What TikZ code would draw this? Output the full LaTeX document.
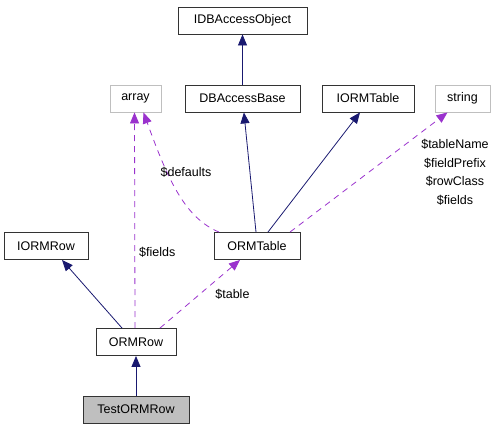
\documentclass[tikz,border=0pt]{standalone}
\usepackage{fontspec}
\setmainfont{Liberation Sans}
\usepackage{xcolor}
\usetikzlibrary{arrows.meta,positioning,calc}

\definecolor{edgeblue}{HTML}{191970}
\definecolor{edgepurple}{HTML}{9A32CD}
\definecolor{boxgray}{HTML}{BFBFBF}

\begin{document}
\begin{tikzpicture}[
    x=1pt, y=-1pt,
    font=\fontsize{12.5}{14}\selectfont,
    cls/.style={rectangle, minimum height=27pt, inner xsep=5pt, draw=black!80, line width=0.9pt, fill=white},
    ext/.style={rectangle, minimum height=27pt, inner xsep=5pt, draw=boxgray, line width=0.9pt, fill=white},
    cur/.style={cls, fill=boxgray},
    inh/.style={-{Triangle[length=11pt,width=9pt]}, edgeblue, line width=0.8pt},
    usage/.style={-{Triangle[length=11pt,width=9pt]}, edgepurple, line width=0.8pt, dash pattern=on 6pt off 5pt},
    lbl/.style={inner sep=1pt, align=center, text=black},
]
\useasboundingbox (0,0) rectangle (497,443);

\node[cls, minimum width=129pt] (idbao)  at (242.5,20.5) {IDBAccessObject};
\node[ext, minimum width=51pt]  (arr)    at (135.5,98.5) {array};
\node[cls, minimum width=115pt] (dbab)   at (242.5,98.5) {DBAccessBase};
\node[cls, minimum width=92pt]  (iormt)  at (368,98.5)   {IORMTable};
\node[ext, minimum width=55pt]  (str)    at (462.5,98.5) {string};
\node[cls, minimum width=84pt]  (iormr)  at (46,246)     {IORMRow};
\node[cls, minimum width=86pt]  (ormt)   at (257,246)    {ORMTable};
\node[cls, minimum width=80pt]  (ormr)   at (136,342)    {ORMRow};
\node[cur, minimum width=106pt] (test)   at (136,409.5)  {TestORMRow};

% inheritance
\draw[inh] (dbab) -- (idbao);
\draw[inh] ([xshift=-1pt]ormt.north) -- (dbab);
\draw[inh] ([xshift=11pt]ormt.north) -- ([xshift=-8pt]iormt.south);
\draw[inh] ([xshift=-14pt]ormr.north) -- ([xshift=16pt]iormr.south);
\draw[inh] (test) -- (ormr);

% usage
\draw[usage] ([xshift=33pt]ormt.north) -- ([xshift=-15pt]str.south);
\node[lbl, font=\fontsize{12.5}{18.5}\selectfont] (lstr) at (455,172.5) {\$tableName\\\$fieldPrefix\\\$rowClass\\\$fields};
\draw[usage] ([xshift=-38pt]ormt.north) .. controls (185,218) and (168,180) .. ([xshift=8pt]arr.south);
\node[lbl] (ldef) at (186,172) {\$defaults};
\draw[usage] ([xshift=-1pt]ormr.north) -- ([xshift=-1pt]arr.south)
    node[lbl, pos=0.35, right=3pt] {\$fields};
\draw[usage] ([xshift=24pt]ormr.north) -- ([xshift=-17pt]ormt.south)
    node[lbl, pos=0.5, right=14pt] {\$table};
\end{tikzpicture}
\end{document}
